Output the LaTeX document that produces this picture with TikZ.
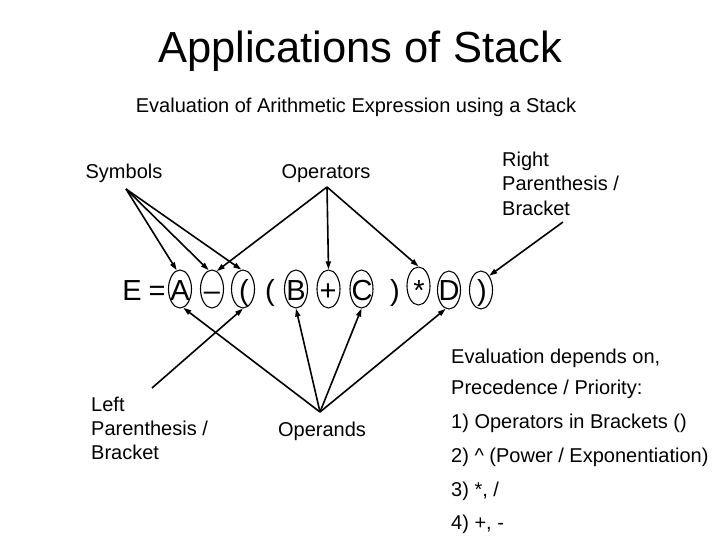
\documentclass[tikz,border=0pt]{standalone}
\usepackage{fontspec}
\setmainfont{Liberation Sans}
\usetikzlibrary{arrows.meta,shapes.geometric}
\begin{document}
\begin{tikzpicture}[x=1pt,y=-1pt,
  lbl/.style={inner sep=0pt,font=\fontsize{20}{24}\selectfont},
  sym/.style={inner sep=0pt,anchor=base,font=\fontsize{29}{34}\selectfont},
  oval/.style={draw,ellipse,line width=1.1pt,minimum width=23pt,minimum height=38pt,inner sep=0pt},
  arr/.style={line width=1.6pt,-{Triangle[length=8pt,width=5pt]}}]
\useasboundingbox (0,0) rectangle (720,540);
% titles
\node[inner sep=0pt,anchor=base,font=\fontsize{43.5}{50}\selectfont] (title) at (360,63) {Applications of Stack};
\node[lbl,anchor=base] (sub) at (356,113) {Evaluation of Arithmetic Expression using a Stack};
% labels
\node[lbl,anchor=base] (symbols) at (124,179) {Symbols};
\node[lbl,anchor=base] (operators) at (326,179) {Operators};
\node[lbl,anchor=base west] (rp1t) at (502,167) {Right};
\node[lbl,anchor=base west] (rp2t) at (502,191) {Parenthesis /};
\node[lbl,anchor=base west] (rp3t) at (502,215) {Bracket};
\node[lbl,anchor=base west] (lp1t) at (91,411) {Left};
\node[lbl,anchor=base west] (lp2t) at (91,435) {Parenthesis /};
\node[lbl,anchor=base west] (lp3t) at (91,459) {Bracket};
\node[lbl,anchor=base] (operands) at (322,436) {Operands};
% right block
\node[lbl,anchor=base west] (ev1) at (451,363) {Evaluation depends on,};
\node[lbl,anchor=base west] (ev2) at (451,394) {Precedence / Priority:};
\node[lbl,anchor=base west] (ev3) at (451,428) {1) Operators in Brackets ()};
\node[lbl,anchor=base west] (ev4) at (451,462) {2) \^{} (Power / Exponentiation)};
\node[lbl,anchor=base west] (ev5) at (451,496) {3) *, /};
\node[lbl,anchor=base west] (ev6) at (451,529) {4) +, -};
% expression
\node[sym] (cE) at (132,300) {E};
\node[sym] (cEq) at (157,300) {=};
\node[sym] (cA) at (180,300) {A};
\node[sym] (cM) at (212,300) {–};
\node[sym] (cL1) at (244,300) {(};
\node[sym] (cL2) at (270,300) {(};
\node[sym] (cB) at (296,300) {B};
\node[sym] (cP) at (328,300) {+};
\node[sym] (cC) at (362,300) {C};
\node[sym] (cR1) at (395,300) {)};
\node[sym] (cS) at (419,300) {*};
\node[sym] (cD) at (449,300) {D};
\node[sym] (cR2) at (482,300) {)};
% ellipses
\node[oval] (oA) at (180,289) {};
\node[oval] (oM) at (212,289) {};
\node[oval] (oL) at (243,289) {};
\node[oval] (oB) at (296,289) {};
\node[oval] (oP) at (328.5,289) {};
\node[oval] (oC) at (361.5,289) {};
\node[oval] (oS) at (418.5,286) {};
\node[oval] (oD) at (449,290) {};
\node[oval] (oR) at (481,290) {};
% connector origins
\coordinate (symS) at (126,189);
\coordinate (opS) at (327,187);
\coordinate (rpS) at (563,222);
\coordinate (lpS) at (152,388);
\coordinate (opdS) at (320,412);
% arrows
\draw[arr] (symS) -- (oA.100);
\draw[arr] (symS) -- (oM.100);
\draw[arr] (symS) -- (oL.95);
\draw[arr] (opS) -- (oM.75);
\draw[arr] (opS) -- (oP.north);
\draw[arr] (opS) -- (oS.north);
\draw[arr] (rpS) -- (oR.60);
\draw[arr] (lpS) -- (oL.-90);
\draw[arr] (opdS) -- (oA.-80);
\draw[arr] (opdS) -- (oB.-90);
\draw[arr] (opdS) -- (oC.-90);
\draw[arr] (opdS) -- (oD.-100);
\end{tikzpicture}
\end{document}
